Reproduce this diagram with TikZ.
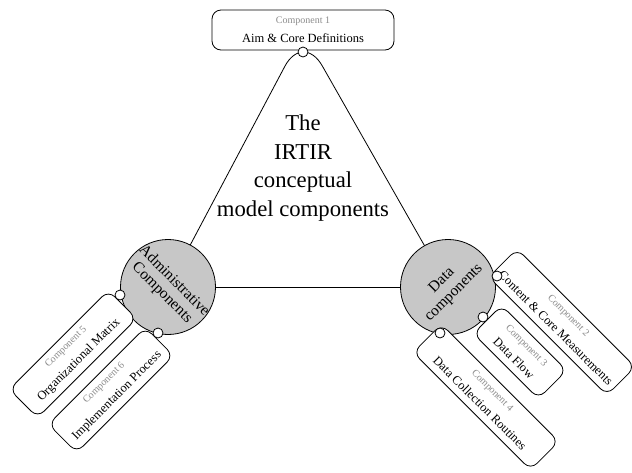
\documentclass[tikz,border=0pt]{standalone}
\usepackage{fontspec}
\setmainfont{Liberation Serif}
\newcommand\cmplabel[1]{\textcolor{black!45}{\fontsize{10}{12}\selectfont #1}}
\begin{document}
\begin{tikzpicture}[x=1pt,y=-1pt,
  comp/.style={draw, rounded corners=9pt, minimum height=40pt, inner sep=0pt,
    align=center, line width=0.8pt, fill=white,
    font=\fontsize{12.5}{19}\selectfont},
  hub/.style={draw, circle, fill=black!22, minimum size=95pt, inner sep=0pt, line width=0.8pt},
  hubtext/.style={align=center, inner sep=0pt, font=\fontsize{15.5}{17}\selectfont},
  joint/.style={draw, circle, fill=white, minimum size=10pt, inner sep=0pt, line width=0.8pt},
  tri/.style={line width=0.8pt}]
\useasboundingbox (0,0) rectangle (632,472);
% triangle
\coordinate (Lc) at (168,287);
\coordinate (Rc) at (448,287);
\coordinate (apex) at (303,32);
\draw[tri] (Lc) -- (Rc);
\draw[tri, rounded corners=39pt] (Lc) -- (apex) -- (Rc);
% title
\node[align=center, font=\fontsize{22.7}{28.5}\selectfont] (title) at (303,168)
  {The\\IRTIR\\conceptual\\model components};
% hubs
\node[hub] (adm) at (Lc) {};
\node[hubtext, rotate=-45] (admtxt) at (adm.center) {Administrative\\Components};
\node[hub] (dat) at (Rc) {};
\node[hubtext, rotate=45] (dattxt) at (dat.center) {Data\\components};
% component boxes
\node[comp, minimum width=182pt] (b1) at (303,30) {\cmplabel{Component 1}\\Aim \& Core Definitions};
\node[comp, minimum width=167pt, rotate=-45] (b2) at (562,322) {\cmplabel{Component 2}\\Content \& Core Measurements};
\node[comp, minimum width=92pt, rotate=-45] (b3) at (520,352) {\cmplabel{Component 3}\\Data Flow};
\node[comp, minimum width=166pt, rotate=-45] (b4) at (486,397) {\cmplabel{Component 4}\\Data Collection Routines};
\node[comp, minimum width=140pt, rotate=45] (b5) at (73,354) {\cmplabel{Component 5}\\Organizational Matrix};
\node[comp, minimum width=137pt, rotate=45] (b6) at (111,390) {\cmplabel{Component 6}\\Implementation Process};
% joints
\node[joint] (j1) at (303,52) {};
\node[joint] (j2) at (497,276) {};
\node[joint] (j3) at (483,317) {};
\node[joint] (j4) at (440,333) {};
\node[joint] (j5) at (120,295) {};
\node[joint] (j6) at (158,333) {};
\end{tikzpicture}
\end{document}
